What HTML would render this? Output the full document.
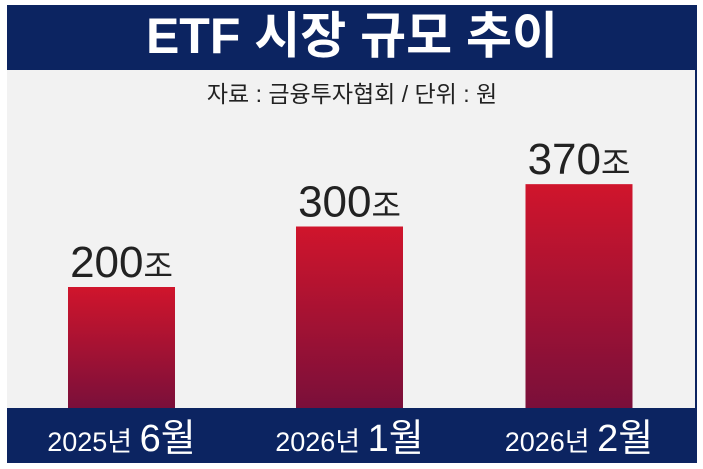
<!DOCTYPE html>
<html><head><meta charset="utf-8"><style>
body{margin:0;width:703px;height:469px;background:#fff;overflow:hidden;font-family:"Liberation Sans","Noto Sans CJK KR",sans-serif;}
#frame{position:absolute;left:7px;top:5px;width:690px;height:458px;background:#0c2461;}
#panel{position:absolute;left:7px;top:70px;width:688px;height:338px;background:#f2f2f2;}
#title{position:absolute;left:7px;top:6px;width:690px;text-align:center;color:#fff;font-size:50px;font-weight:bold;line-height:60px;}
#sub{position:absolute;left:7px;top:79px;width:690px;text-align:center;color:#222;font-size:23px;line-height:30px;}
</style></head><body>
<div id="frame"></div>
<div id="panel"></div>
<div id="title">ETF 시장 규모 추이</div>
<div id="sub">자료 : 금융투자협회 / 단위 : 원</div>
<svg id="chart" width="703" height="469" style="position:absolute;left:0;top:0">
<defs><linearGradient id="g" x1="0" y1="0" x2="0" y2="1"><stop offset="0" stop-color="#d0152c"/><stop offset="1" stop-color="#7a0f3a"/></linearGradient></defs>
</svg>
<script>
const categoriesYear=["2025년","2026년","2026년"];
const categoriesMonth=["6월","1월","2월"];
const values=[200,300,370];
const valueLabels=["200","300","370"];
const svg=document.getElementById('chart');
const NS='http://www.w3.org/2000/svg';
const base=408, k=0.605, barW=107, centers=[121.5,349.5,579];
function y(v){return base-k*v;}
values.forEach((v,i)=>{
  const r=document.createElementNS(NS,'rect');
  r.setAttribute('x',centers[i]-barW/2);r.setAttribute('y',y(v));
  r.setAttribute('width',barW);r.setAttribute('height',base-y(v));
  r.setAttribute('fill','url(#g)');
  
  
  svg.appendChild(r);
  const t=document.createElementNS(NS,'text');
  t.setAttribute('x',centers[i]);t.setAttribute('y',y(v)-10);
  t.setAttribute('text-anchor','middle');t.setAttribute('fill','#222');
  t.setAttribute('font-size','44');
  t.innerHTML=valueLabels[i]+'<tspan font-size="32">조</tspan>';
  
  
  svg.appendChild(t);
  const c=document.createElementNS(NS,'text');
  c.setAttribute('x',centers[i]);c.setAttribute('y',451);
  c.setAttribute('text-anchor','middle');c.setAttribute('fill','#fff');
  c.setAttribute('font-size','27');
  c.innerHTML=categoriesYear[i]+' <tspan font-size="38">'+categoriesMonth[i]+'</tspan>';
  
  
  svg.appendChild(c);
});
</script>
</body></html>
